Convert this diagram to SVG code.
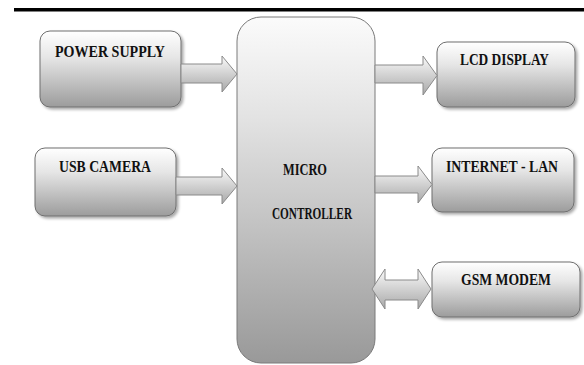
<svg xmlns="http://www.w3.org/2000/svg" width="584" height="365" viewBox="0 0 584 365">
  <defs>
    <linearGradient id="boxFill" x1="0" y1="0" x2="0" y2="1">
      <stop offset="0" stop-color="#ffffff"/>
      <stop offset="0.35" stop-color="#e6e6e6"/>
      <stop offset="1" stop-color="#9c9c9c"/>
    </linearGradient>
    <linearGradient id="mcuFill" x1="0" y1="0" x2="0" y2="1">
      <stop offset="0" stop-color="#fbfbfb"/>
      <stop offset="0.3" stop-color="#e2e2e2"/>
      <stop offset="1" stop-color="#999999"/>
    </linearGradient>
    <linearGradient id="arrowFill" x1="0" y1="0" x2="0" y2="1">
      <stop offset="0" stop-color="#fafafa"/>
      <stop offset="1" stop-color="#a8a8a8"/>
    </linearGradient>
    <filter id="shadow" x="-10%" y="-10%" width="125%" height="130%">
      <feGaussianBlur in="SourceAlpha" stdDeviation="1.5"/>
      <feOffset dx="1.5" dy="2" result="b"/>
      <feComponentTransfer><feFuncA type="linear" slope="0.35"/></feComponentTransfer>
      <feMerge><feMergeNode/><feMergeNode in="SourceGraphic"/></feMerge>
    </filter>
  </defs>
  <style>
    .box { fill: url(#boxFill); stroke: #6e6e6e; stroke-width: 1; filter: url(#shadow); }
    .mcu { fill: url(#mcuFill); stroke: #7a7a7a; stroke-width: 1; }
    .arrow { fill: url(#arrowFill); stroke: #8a8a8a; stroke-width: 1; }
    .label { font-family: "Liberation Serif", "DejaVu Serif", serif; font-weight: bold; font-size: 16px; fill: #111; }
  </style>

  <rect width="584" height="365" fill="#ffffff"/>
  <!-- header rule -->
  <rect x="14" y="8" width="570" height="3.5" fill="#000"/>

  <g id="micro-controller">
    <rect class="mcu" x="237" y="17" width="138" height="346" rx="24" ry="24"/>
    <text class="label" x="283" y="175" textLength="44" lengthAdjust="spacingAndGlyphs">MICRO</text>
    <text class="label" x="272" y="219" textLength="80" lengthAdjust="spacingAndGlyphs">CONTROLLER</text>
  </g>

  <g id="power-supply">
    <rect class="box" x="40" y="31" width="141" height="76" rx="10" ry="10"/>
    <text class="label" x="55" y="57" textLength="110" lengthAdjust="spacingAndGlyphs">POWER SUPPLY</text>
  </g>

  <g id="usb-camera">
    <rect class="box" x="35" y="148" width="141" height="68" rx="10" ry="10"/>
    <text class="label" x="59" y="172" textLength="92" lengthAdjust="spacingAndGlyphs">USB CAMERA</text>
  </g>

  <g id="lcd-display">
    <rect class="box" x="437" y="42" width="138" height="65" rx="10" ry="10"/>
    <text class="label" x="460" y="65" textLength="89" lengthAdjust="spacingAndGlyphs">LCD DISPLAY</text>
  </g>

  <g id="internet-lan">
    <rect class="box" x="432" y="148" width="142" height="64" rx="10" ry="10"/>
    <text class="label" x="446" y="172" textLength="112" lengthAdjust="spacingAndGlyphs">INTERNET - LAN</text>
  </g>

  <g id="gsm-modem">
    <rect class="box" x="432" y="262" width="148" height="55" rx="10" ry="10"/>
    <text class="label" x="461" y="285" textLength="90" lengthAdjust="spacingAndGlyphs">GSM MODEM</text>
  </g>

  <g id="connectors">
    <!-- power supply to controller -->
    <path class="arrow" d="M181,64 H222 V56 L237,74 L222,92 V83 H181 Z"/>
    <!-- usb camera to controller -->
    <path class="arrow" d="M176,177 H222 V168 L237,186 L222,204 V195 H176 Z"/>
    <!-- controller to lcd display -->
    <path class="arrow" d="M375,65 H423 V56 L437,75.5 L423,95 V83 H375 Z"/>
    <!-- controller to internet -->
    <path class="arrow" d="M375,176 H418 V166 L432,184.5 L418,203 V193 H375 Z"/>
    <!-- controller and gsm modem, both directions -->
    <path class="arrow" d="M372,289 L385,269 V280 H418 V269 L431,289 L418,309 V300 H385 V309 Z"/>
  </g>
</svg>
